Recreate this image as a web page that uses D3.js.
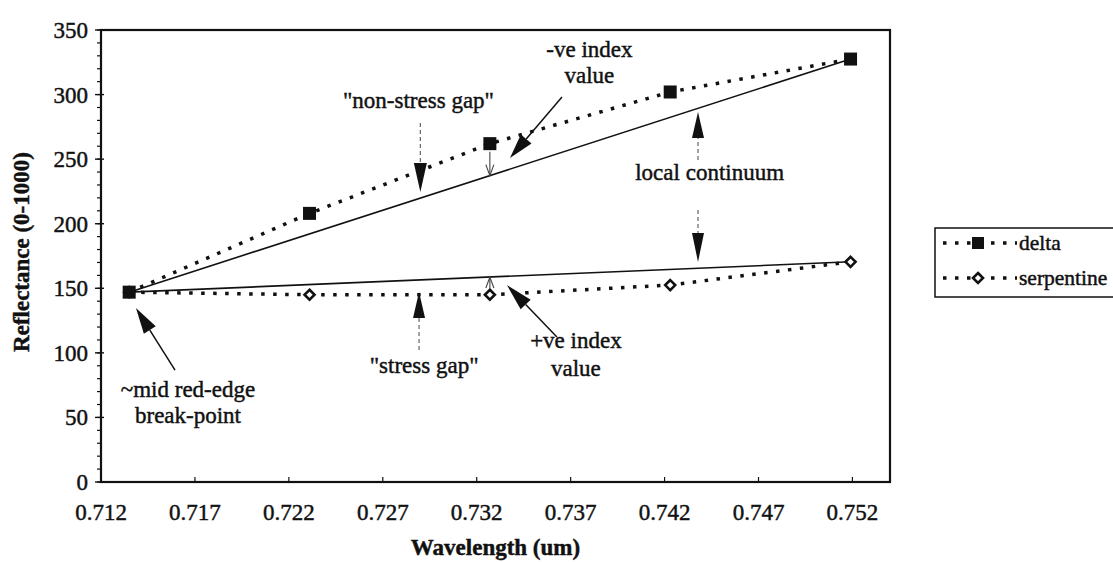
<!DOCTYPE html>
<html>
<head>
<meta charset="utf-8">
<script src="https://cdn.jsdelivr.net/npm/d3@7"></script>
<style>
  body { margin: 0; background: #fff; }
  svg text { font-family: "Liberation Serif", "Times New Roman", serif; fill: #111; stroke: #111; stroke-width: 0.45px; }
</style>
</head>
<body>
<div id="chart"></div>
<script>
// Data
const wavelengths = [0.7135, 0.7231, 0.7327, 0.7423, 0.7519];
const delta = [147, 208, 262, 302, 327.5];
const serpentine = [147, 145, 145, 152.5, 170.5];
const xTicks = [0.712, 0.717, 0.722, 0.727, 0.732, 0.737, 0.742, 0.747, 0.752];
const yTicks = [0, 50, 100, 150, 200, 250, 300, 350];
const seriesNames = ["delta", "serpentine"];

const width = 1113;
const height = 562;
const margin = { top: 30, left: 101, right: 223, bottom: 80 };

const svg = d3.select("#chart").append("svg")
    .attr("width", width)
    .attr("height", height);

const x = d3.scaleLinear().domain([0.712, 0.754]).range([margin.left, width - margin.right]);
const y = d3.scaleLinear().domain([0, 350]).range([height - margin.bottom, margin.top]);

const fontSize = 23;
const ink = "#111";

// plot frame
svg.append("rect")
    .attr("x", x(0.712)).attr("y", y(350))
    .attr("width", x(0.754) - x(0.712)).attr("height", y(0) - y(350))
    .attr("fill", "none").attr("stroke", ink).attr("stroke-width", 2.2);

// y axis with minor ticks
const yAxis = svg.append("g").attr("transform", `translate(${x(0.712)},0)`);
yAxis.selectAll("line.minor")
    .data(d3.range(0, 351, 10))
    .enter().append("line")
    .attr("x1", -4).attr("x2", 0)
    .attr("y1", d => y(d)).attr("y2", d => y(d))
    .attr("stroke", ink).attr("stroke-width", 1.2);
yAxis.selectAll("line.major")
    .data(yTicks)
    .enter().append("line")
    .attr("x1", -6).attr("x2", 3)
    .attr("y1", d => y(d)).attr("y2", d => y(d))
    .attr("stroke", ink).attr("stroke-width", 1.4);
yAxis.selectAll("text")
    .data(yTicks)
    .enter().append("text")
    .attr("x", -13).attr("y", d => y(d))
    .attr("dy", "0.35em")
    .attr("text-anchor", "end")
    .attr("font-size", fontSize)
    .text(d => d);

// x axis
const xAxis = svg.append("g").attr("transform", `translate(0,${y(0)})`);
xAxis.selectAll("line")
    .data(xTicks)
    .enter().append("line")
    .attr("x1", d => x(d)).attr("x2", d => x(d))
    .attr("y1", -5).attr("y2", 0)
    .attr("stroke", ink).attr("stroke-width", 1.2);
xAxis.selectAll("text")
    .data(xTicks)
    .enter().append("text")
    .attr("x", d => x(d)).attr("y", 38)
    .attr("text-anchor", "middle")
    .attr("font-size", fontSize)
    .text(d => d3.format(".3f")(d));

// axis titles
svg.append("text")
    .attr("x", (x(0.712) + x(0.754)) / 2).attr("y", 555)
    .attr("text-anchor", "middle")
    .attr("font-size", fontSize).attr("font-weight", "bold")
    .text("Wavelength (um)");
svg.append("text")
    .attr("transform", `translate(29,252) rotate(-90)`)
    .attr("text-anchor", "middle")
    .attr("font-size", fontSize).attr("font-weight", "bold")
    .text("Reflectance (0-1000)");

// local continuum lines (first to last point of each series)
const last = wavelengths.length - 1;
[delta, serpentine].forEach(vals => {
  svg.append("line")
      .attr("x1", x(wavelengths[0])).attr("y1", y(vals[0]))
      .attr("x2", x(wavelengths[last])).attr("y2", y(vals[last]))
      .attr("stroke", ink).attr("stroke-width", 1.6);
});

function continuum(vals, w) {
  const t = (w - wavelengths[0]) / (wavelengths[last] - wavelengths[0]);
  return vals[0] + t * (vals[last] - vals[0]);
}

// dotted series lines
const line = d3.line().x((d, i) => x(wavelengths[i])).y(d => y(d));
[serpentine, delta].forEach(vals => {
  svg.append("path")
      .attr("d", line(vals))
      .attr("fill", "none")
      .attr("stroke", ink)
      .attr("stroke-width", 3.5)
      .attr("stroke-dasharray", "3.5 8.5");
});

// markers
function drawSquare(g, cx, cy, s) {
  g.append("rect")
      .attr("x", cx - s / 2).attr("y", cy - s / 2)
      .attr("width", s).attr("height", s)
      .attr("fill", ink);
}
function drawDiamond(g, cx, cy, s) {
  g.append("path")
      .attr("d", `M${cx},${cy - s / 2}L${cx + s / 2},${cy}L${cx},${cy + s / 2}L${cx - s / 2},${cy}Z`)
      .attr("fill", "#fff").attr("stroke", ink).attr("stroke-width", 2.6);
}
const marks = svg.append("g");
serpentine.forEach((v, i) => drawDiamond(marks, x(wavelengths[i]), y(v), 10));
delta.forEach((v, i) => drawSquare(marks, x(wavelengths[i]), y(v), 13));

// annotations
const ann = svg.append("g");
function label(lines, wx, ry, dyStep) {
  lines.forEach((t, i) => {
    ann.append("text")
        .attr("x", x(wx)).attr("y", y(ry) + i * dyStep)
        .attr("text-anchor", "middle")
        .attr("font-size", fontSize)
        .text(t);
  });
}
// filled arrowhead from point (x0,y0) to tip (x1,y1), pixel coords
function solidArrow(x0, y0, x1, y1, headLen, headW, dashed) {
  const a = Math.atan2(y1 - y0, x1 - x0);
  const bx = x1 - headLen * Math.cos(a), by = y1 - headLen * Math.sin(a);
  ann.append("line")
      .attr("x1", x0).attr("y1", y0).attr("x2", bx).attr("y2", by)
      .attr("stroke", dashed ? "#666" : ink)
      .attr("stroke-width", dashed ? 1.2 : 1.5)
      .attr("stroke-dasharray", dashed ? "4 3" : null);
  const px = -Math.sin(a) * headW / 2, py = Math.cos(a) * headW / 2;
  ann.append("path")
      .attr("d", `M${x1},${y1}L${bx + px},${by + py}L${bx - px},${by - py}Z`)
      .attr("fill", ink);
}
function openArrow(x0, y0, x1, y1) {
  ann.append("line")
      .attr("x1", x0).attr("y1", y0).attr("x2", x1).attr("y2", y1)
      .attr("stroke", "#444").attr("stroke-width", 1.1);
  const dir = Math.sign(y1 - y0);
  ann.append("path")
      .attr("d", `M${x1 - 4},${y1 - dir * 11}L${x1},${y1}L${x1 + 4},${y1 - dir * 11}`)
      .attr("fill", "none").attr("stroke", "#444").attr("stroke-width", 1.1);
}

label(['"non-stress gap"'], 0.7289, 289.6, 0);
solidArrow(x(0.729), y(278), x(0.729), y(224.6), 29, 13, true);

label(["-ve index", "value"], 0.7380, 329, 26);
solidArrow(x(0.73654), y(298.1), x(0.73377), y(250.9), 25, 14, false);

label(["local continuum"], 0.7444, 233.9, 0);
solidArrow(x(0.74378), y(249.3), x(0.74378), y(286.5), 26, 12, true);
solidArrow(x(0.74378), y(210.6), x(0.74378), y(170.4), 29, 12, true);

label(['"stress gap"'], 0.7292, 84.4, 0);
solidArrow(x(0.72893), y(102.2), x(0.72893), y(147.1), 26, 12, true);

label(["+ve index", "value"], 0.73728, 103.8, 28);
solidArrow(x(0.73627), y(112.3), x(0.73361), y(152.5), 27, 14, false);

label(["~mid red-edge", "break-point"], 0.71663, 65.8, 26);
solidArrow(x(0.71594), y(86.7), x(0.71386), y(134.7), 26, 14, false);

// gap arrows at the third wavelength
const w3 = wavelengths[2];
openArrow(x(w3), y(delta[2]) + 8, x(w3), y(continuum(delta, w3)));
openArrow(x(w3), y(serpentine[2]) - 6, x(w3), y(continuum(serpentine, w3)));

// legend
const lg = svg.append("g").attr("transform", "translate(935,228)");
lg.append("rect")
    .attr("width", 200).attr("height", 69)
    .attr("fill", "#fff").attr("stroke", ink).attr("stroke-width", 1.5);
seriesNames.forEach((name, i) => {
  const cy = 15 + i * 35;
  lg.append("line")
      .attr("x1", 8).attr("x2", 82).attr("y1", cy).attr("y2", cy)
      .attr("stroke", ink).attr("stroke-width", 3.5)
      .attr("stroke-dasharray", "3.5 8.5");
  if (i === 0) drawSquare(lg, 43, cy, 12);
  else drawDiamond(lg, 43, cy, 10);
  lg.append("text")
      .attr("x", 84).attr("y", cy).attr("dy", "0.32em")
      .attr("font-size", 21.5)
      .text(name);
});
</script>
</body>
</html>
